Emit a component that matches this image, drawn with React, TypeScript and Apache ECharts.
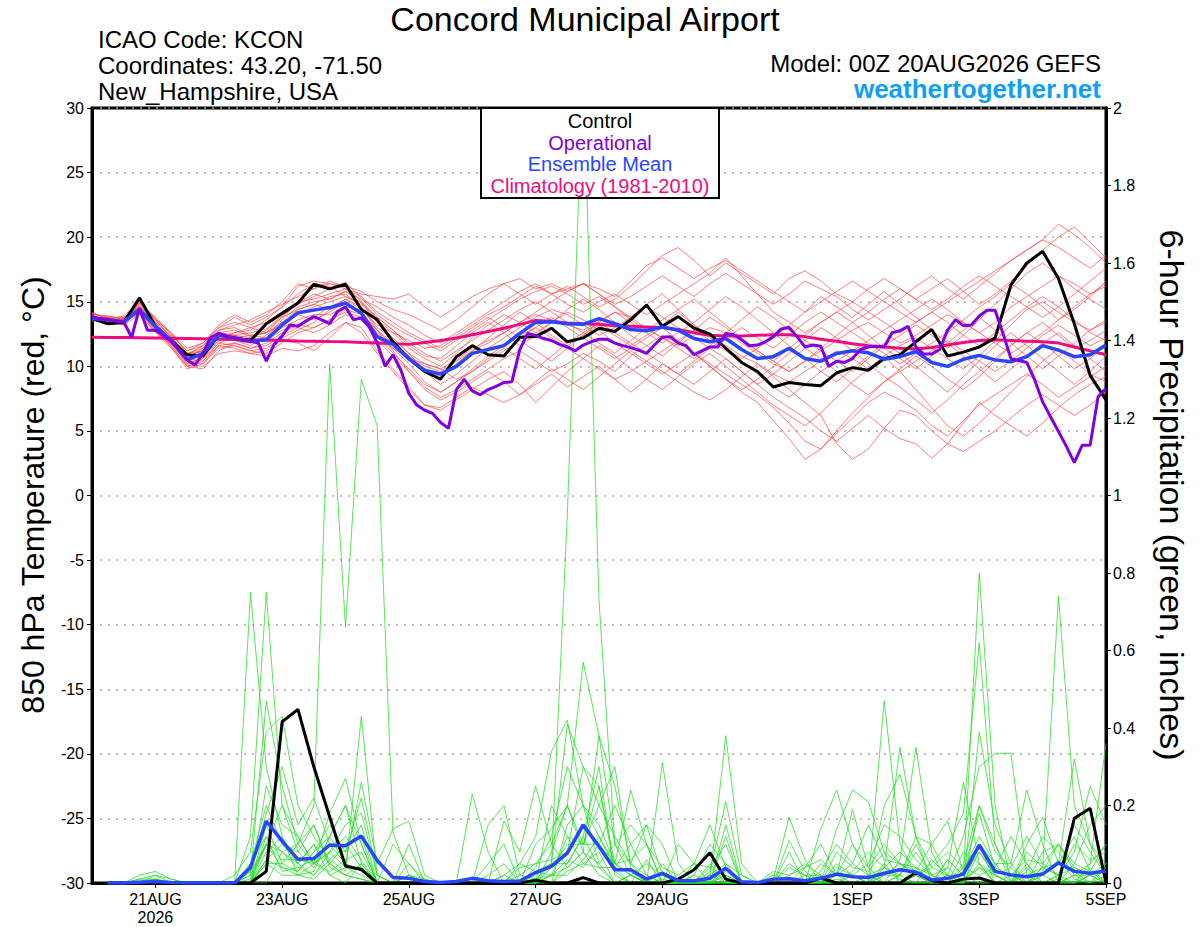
import React, { useEffect, useRef } from 'react';
import * as echarts from 'echarts';

// ---------- axis ticks ----------
const TICK_HOURS = [24, 72, 120, 168, 216, 288, 336, 384];
const TICK_LABELS = ['21AUG\n2026', '23AUG', '25AUG', '27AUG', '29AUG', '1SEP', '3SEP', '5SEP'];

// ---------- 850 hPa temperature (6-hourly from 00Z 20AUG, 65 values) ----------
const CONTROL_T = [
  13.7, 13.3, 13.4, 15.3, 13.1, 12.0, 10.9, 10.8, 12.4, 12.2, 12.0, 13.3, 14.1, 14.9, 16.35, 16.0,
  16.35, 14.4, 13.6, 11.9, 10.6, 9.6, 9.0, 10.75, 11.6, 10.9, 10.8, 12.25, 12.3, 12.95, 11.9, 12.2,
  12.95, 12.7, 13.6, 14.75, 13.1, 13.85, 12.95, 12.5, 11.4, 10.3, 9.6, 8.4, 8.75, 8.6, 8.5, 9.5,
  9.9, 9.7, 10.6, 10.9, 11.9, 12.85, 10.8, 11.1, 11.5, 12.2, 16.3, 18.0, 18.9, 16.8, 13.3, 9.3, 7.4,
];
const MEAN_T = [
  13.7, 13.6, 13.45, 14.4, 13.1, 12.0, 10.5, 11.0, 12.4, 12.2, 11.95, 12.05, 13.2, 14.15, 14.35, 14.55,
  14.9, 14.1, 12.3, 11.7, 10.6, 9.7, 9.4, 10.0, 11.0, 11.3, 11.6, 12.55, 13.4, 13.45, 13.3, 13.25,
  13.7, 13.3, 12.85, 12.75, 13.05, 12.8, 12.15, 11.9, 12.15, 11.3, 10.6, 10.75, 11.4, 10.6, 10.4, 11.0,
  11.2, 11.05, 10.55, 10.75, 11.15, 10.3, 10.0, 10.55, 10.85, 10.5, 10.35, 10.75, 11.6, 11.25, 10.75, 10.9, 11.65,
];
const CLIMO_T = [
  12.25, 12.24, 12.23, 12.22, 12.2, 12.18, 12.16, 12.14, 12.1, 12.08, 12.05, 12.03, 12.0, 11.97, 11.95, 11.92,
  11.9, 11.85, 11.8, 11.75, 11.7, 11.85, 12.0, 12.2, 12.45, 12.7, 12.95, 13.25, 13.55, 13.5, 13.35, 13.3,
  13.25, 13.15, 13.1, 13.05, 13.0, 12.85, 12.6, 12.4, 12.35, 12.35, 12.4, 12.45, 12.45, 12.3, 12.1, 11.95,
  11.75, 11.6, 11.5, 11.4, 11.35, 11.45, 11.65, 11.85, 12.0, 12.05, 12.0, 11.95, 11.9, 11.8, 11.5, 11.2, 10.9,
];
// operational run: 3-hourly, 129 values
const OPER_T = [
  13.85, 13.7, 13.6, 13.5, 13.45, 12.25, 14.5, 12.8, 12.8, 12.4, 11.9, 11.3, 10.5, 10.1, 11.0, 12.25,
  12.55, 12.35, 12.2, 12.0, 11.95, 11.8, 10.4, 11.7, 12.35, 13.2, 13.1, 13.5, 13.85, 13.6, 13.3, 14.25,
  14.6, 13.6, 13.75, 13.05, 11.8, 10.0, 10.9, 9.7, 7.9, 7.0, 6.6, 6.35, 5.65, 5.2, 8.2, 9.0,
  8.1, 7.8, 8.2, 8.45, 8.75, 8.8, 11.3, 12.55, 12.4, 12.15, 12.0, 11.7, 11.5, 11.2, 11.65, 11.9,
  12.1, 12.1, 11.8, 11.6, 11.45, 11.25, 11.0, 11.65, 12.25, 12.3, 11.8, 11.6, 10.9, 11.2, 11.5, 11.5,
  12.55, 12.45, 12.05, 11.6, 11.65, 11.9, 12.3, 12.9, 13.0, 12.3, 11.5, 11.65, 11.55, 10.0, 10.4, 10.3,
  10.6, 11.3, 11.5, 11.55, 11.5, 12.6, 12.75, 13.1, 11.5, 10.95, 10.95, 11.3, 12.8, 13.6, 13.15, 13.2,
  13.9, 14.35, 14.35, 12.55, 10.6, 10.45, 10.3, 8.95, 7.25, 6.1, 4.95, 3.8, 2.55, 3.9, 3.9, 7.65, 8.3,
];

// ensemble members (red), 6-hourly, groups of 4 = one day
const T_M01 = [13.9,13.5,13.6,14.8, 13.4,12.3,10.8,11.2, 12.6,12.8,12.3,12.6, 13.8,14.9,15.6,15.2, 15.8,14.9,13.4,12.2, 11.0,10.2,9.8,10.5, 11.4,12.0,12.6,13.4, 14.0,13.6,13.2,12.8, 13.5,14.2,13.8,12.9, 12.2,11.6,12.4,13.0, 12.6,11.8,11.0,10.2, 9.6,10.4,11.2,12.0, 12.8,13.4,12.6,11.8, 12.4,13.2,14.0,13.4, 12.6,13.4,14.6,15.4, 16.2,17.0,16.4,15.6, 16.2];
const T_M02 = [13.6,13.8,13.3,14.2, 12.9,11.8,10.2,10.6, 12.0,12.4,12.6,12.9, 13.9,14.8,15.4,16.0, 16.5,15.3,14.0,13.1, 12.4,11.8,11.2,12.0, 12.8,13.6,14.4,15.2, 15.8,16.2,15.6,14.8, 15.4,14.6,13.8,14.8, 15.6,14.4,13.2,12.4, 11.6,10.8,10.2,9.4, 8.8,9.6,10.4,11.2, 10.6,9.8,10.8,11.6, 12.2,11.4,10.6,9.8, 10.8,12.0,13.2,14.4, 15.0,14.2,13.4,12.8, 13.6];
const T_M03 = [14.0,13.4,13.5,14.6, 13.2,12.1,10.6,10.4, 11.8,11.6,11.2,11.0, 11.8,12.6,13.0,13.6, 14.2,13.8,12.0,10.8, 9.6,8.4,7.6,8.2, 9.0,9.8,10.6,11.2, 10.4,9.6,10.2,11.0, 10.4,9.6,10.8,11.6, 12.4,11.8,11.0,10.2, 9.4,8.6,7.8,6.8, 5.6,4.2,3.6,4.8, 6.0,7.2,8.0,7.4, 6.6,5.4,4.6,5.8, 7.0,7.8,8.6,9.4, 8.6,7.6,8.4,9.2, 10.0];
const T_M04 = [13.8,13.7,13.4,14.3, 13.0,12.2,11.0,11.4, 12.8,13.2,13.6,14.2, 14.8,15.4,16.0,16.4, 16.2,15.0,13.6,12.6, 11.4,10.6,10.0,11.0, 12.2,13.2,14.0,13.4, 12.6,13.4,14.2,13.6, 12.8,11.8,11.0,10.2, 9.4,10.2,11.0,10.0, 9.0,8.0,7.2,5.8, 4.4,2.8,3.6,5.0, 6.4,7.6,8.8,9.6, 10.4,11.2,12.0,11.2, 10.4,9.6,10.4,11.4, 12.4,13.2,12.4,11.6, 12.2];
const T_M05 = [13.5,13.9,13.7,15.0, 13.6,12.6,11.4,11.8, 13.0,13.8,13.2,13.8, 14.6,16.2,16.6,16.4, 16.0,15.6,15.4,15.2, 15.6,14.6,13.8,14.6, 15.4,16.0,16.4,15.6, 14.8,15.6,16.2,15.4, 14.6,15.2,16.2,17.4, 18.6,19.2,18.2,17.0, 18.0,17.2,16.4,15.6, 16.8,17.4,16.6,15.6, 15.0,16.0,16.8,16.0, 15.2,16.0,16.8,15.8, 14.8,15.6,16.6,17.8, 19.0,20.0,20.8,19.6, 18.4];
const T_M06 = [14.2,13.6,13.2,14.0, 12.7,11.6,10.0,9.8, 11.2,11.8,11.4,11.8, 12.6,13.2,13.8,14.6, 15.2,14.6,13.0,12.2, 11.0,9.6,8.6,9.4, 10.4,11.4,12.2,13.0, 13.8,14.4,14.0,13.2, 12.4,13.0,13.8,14.6, 13.8,13.0,12.2,11.4, 12.2,13.0,12.2,11.4, 12.4,13.4,14.2,13.4, 12.6,11.8,11.0,10.2, 11.0,11.8,12.6,13.6, 14.6,15.4,16.4,15.6, 14.6,13.6,14.4,15.4, 16.6];
const T_M07 = [13.7,13.4,13.8,14.5, 13.3,11.9,10.4,10.9, 12.2,12.0,11.6,12.4, 13.4,14.0,13.6,14.2, 15.0,14.2,12.6,11.4, 10.2,8.8,8.0,8.8, 9.6,10.6,11.4,10.6, 9.8,10.8,11.8,12.6, 13.4,12.6,11.8,11.0, 10.2,9.4,10.4,11.4, 10.6,9.6,8.6,9.4, 10.4,11.4,10.6,9.6, 8.6,7.8,8.8,9.8, 10.8,10.0,9.0,8.2, 9.2,10.4,11.6,12.6, 11.8,10.8,9.8,10.6, 11.6];
const T_M08 = [13.9,13.6,13.5,14.7, 13.5,12.4,11.2,11.6, 12.6,12.4,12.0,12.2, 13.0,13.6,14.0,14.0, 14.6,14.4,13.2,12.6, 12.0,11.4,11.6,12.4, 13.2,14.0,14.6,15.4, 16.2,15.6,14.8,14.2, 15.0,15.6,14.8,14.0, 14.8,15.6,16.4,17.2, 18.4,17.0,15.6,14.2, 13.4,12.6,13.4,14.2, 15.0,14.2,13.4,12.6, 13.4,14.2,13.4,12.4, 11.6,12.6,13.6,14.6, 15.4,14.6,13.6,12.6, 12.0];
const T_M09 = [13.6,13.3,13.6,14.1, 12.8,11.5,9.8,10.2, 11.6,11.4,11.0,11.2, 12.0,11.8,11.2,12.2, 13.4,13.0,11.2,9.8, 8.4,7.0,6.6,7.4, 8.2,9.0,9.6,8.6, 7.2,8.4,9.6,10.6, 11.6,10.8,9.8,9.0, 8.2,9.2,10.2,11.0, 10.0,9.0,8.0,7.0, 6.2,5.4,6.4,7.6, 8.8,9.8,10.8,9.6, 8.2,6.8,5.4,4.6, 5.6,6.8,8.0,9.2, 10.4,11.4,10.4,9.4, 8.8];
const T_M10 = [14.1,13.8,13.4,14.9, 13.8,12.6,11.0,11.2, 12.4,12.6,12.8,13.6, 14.6,15.6,16.4,16.2, 15.4,14.8,13.8,12.8, 11.8,11.0,10.4,11.2, 12.0,12.8,13.6,14.4, 15.0,14.2,13.4,12.6, 11.8,11.0,12.0,13.0, 12.2,11.4,10.6,11.6, 12.6,13.6,14.6,13.8, 12.8,12.0,11.2,10.4, 9.6,10.6,11.6,12.4, 13.2,12.4,11.4,12.4, 13.6,14.8,16.0,17.2, 18.0,17.0,16.0,15.2, 14.4];
const T_M11 = [13.8,13.5,13.2,14.4, 13.0,12.0,10.7,11.0, 12.2,12.0,11.8,12.0, 12.8,13.2,13.0,13.6, 14.4,14.0,12.8,11.6, 10.4,9.6,9.2,10.2, 11.2,12.2,13.2,14.2, 13.4,12.4,11.6,12.4, 13.2,12.4,11.6,12.4, 13.2,14.2,13.2,12.2, 11.4,10.6,11.4,12.2, 13.2,14.2,15.4,14.6, 13.8,14.8,15.8,14.8, 13.8,12.8,11.8,10.8, 9.8,8.8,9.8,10.8, 11.8,12.6,11.6,10.6, 9.6];
const T_M12 = [13.7,13.7,13.5,14.6, 13.1,11.8,10.3,10.6, 11.8,12.2,12.4,12.6, 13.4,14.4,14.8,15.4, 15.6,14.6,12.8,11.2, 9.6,8.2,7.4,8.0, 8.8,9.6,8.8,7.8, 8.6,9.4,8.4,9.2, 10.0,9.0,8.0,9.0, 10.2,9.4,8.6,9.6, 10.6,9.6,8.6,7.6, 6.8,6.0,5.0,4.2, 5.2,6.2,5.2,4.4, 4.0,2.9,4.0,5.6, 7.2,6.2,5.4,4.6, 5.6,6.8,7.8,8.6, 9.2];
const T_M13 = [13.9,13.4,13.7,14.9, 13.6,12.2,10.6,11.4, 12.8,13.0,12.4,12.2, 13.6,14.6,15.0,15.2, 15.8,15.2,14.6,13.8, 13.2,12.4,11.8,12.6, 13.4,14.2,15.0,15.8, 16.4,15.6,16.0,16.4, 15.6,14.8,15.4,16.2, 17.0,16.2,15.4,16.4, 17.2,16.4,15.6,14.8, 15.6,16.6,16.0,15.4, 14.4,13.6,14.4,15.2, 16.2,17.0,16.0,15.2, 16.2,17.2,18.2,19.0, 19.8,21.0,20.2,19.2, 18.0];
const T_M14 = [13.6,13.5,13.4,14.2, 12.8,11.7,10.4,10.2, 11.4,11.6,11.2,11.4, 12.2,12.8,13.4,14.4, 15.2,14.4,12.4,11.0, 9.8,8.6,8.0,8.8, 9.8,10.8,11.6,12.4, 13.0,12.2,11.4,10.6, 9.8,9.0,9.6,10.4, 11.2,12.0,12.8,12.0, 11.2,10.4,9.4,8.4, 7.6,8.6,9.6,10.4, 11.2,10.2,9.2,8.4, 7.4,6.4,7.4,8.6, 9.6,10.6,11.6,12.6, 13.4,12.4,11.4,12.0, 12.8];
const T_M15 = [14.0,13.9,13.6,14.5, 13.2,12.3,10.9,11.6, 13.0,13.4,13.0,12.6, 13.2,14.0,14.6,15.0, 15.4,15.0,13.8,12.8, 11.6,10.8,10.6,11.6, 12.6,13.4,12.6,11.6, 12.4,13.4,14.4,15.2, 14.4,13.4,12.4,11.6, 10.8,11.8,12.8,13.8, 13.0,12.0,11.2,10.4, 11.4,12.4,13.4,14.2, 13.4,12.4,11.4,10.6, 9.8,10.8,11.8,12.8, 13.8,12.8,11.8,10.8, 9.8,10.8,11.8,12.8, 13.4];
const T_M16 = [13.5,13.6,13.8,14.6, 13.4,12.0,10.6,10.8, 12.0,12.6,13.0,13.4, 14.2,15.0,15.2,15.6, 16.0,15.4,14.2,13.4, 12.6,12.0,11.4,12.2, 13.0,13.8,13.0,12.2, 13.0,13.8,13.0,12.2, 11.4,10.6,11.4,12.2, 13.0,12.0,11.0,10.0, 9.0,8.2,9.0,10.0, 11.0,12.0,13.0,12.2, 11.2,12.0,12.8,13.6, 14.4,15.2,14.4,13.4, 12.6,11.8,11.0,11.8, 12.6,13.6,14.6,15.6, 16.4];
const T_M17 = [13.8,13.3,13.3,14.3, 12.9,11.6,10.1,10.0, 11.0,11.2,11.0,10.8, 11.4,11.2,11.6,12.6, 13.4,12.6,11.0,9.6, 8.2,7.0,6.8,7.6, 8.4,7.8,7.2,7.8, 8.8,9.8,9.0,8.2, 9.2,10.2,11.2,10.4, 9.6,8.8,8.0,7.4, 8.2,9.2,10.2,9.2, 8.2,7.2,6.2,4.0, 2.8,3.6,5.2,6.6, 6.2,5.0,4.0,3.4, 4.2,5.0,6.0,7.0, 7.8,7.0,6.2,7.0, 8.0];
const T_M18 = [13.7,13.8,13.5,14.4, 13.2,12.1,10.8,11.2, 12.4,12.4,12.2,12.8, 13.8,14.4,14.8,14.4, 14.8,14.2,12.8,11.8, 10.8,10.0,9.6,10.4, 11.2,11.8,12.6,13.4, 14.2,15.0,15.8,16.4, 15.6,14.6,13.6,12.8, 13.6,14.4,15.2,14.2, 13.2,12.2,11.2,10.4, 9.6,10.4,11.4,12.4, 13.4,14.2,15.2,16.0, 15.2,14.4,15.2,16.2, 17.0,16.2,15.4,14.6, 13.8,14.6,15.6,16.6, 17.6];
const T_M19 = [13.6,13.4,13.6,14.0, 12.6,11.4,10.0,10.4, 11.6,11.8,11.4,11.6, 12.4,13.0,12.6,13.2, 14.0,13.6,12.2,11.4, 10.6,10.2,9.8,9.0, 9.6,10.4,11.2,12.0, 11.2,10.4,11.4,12.4, 13.4,14.2,13.4,12.6, 11.8,12.6,13.4,14.4, 15.4,14.6,13.6,12.6, 11.6,10.6,9.6,8.8, 9.8,10.8,11.8,11.0, 10.0,9.0,8.0,9.2, 10.4,11.6,12.6,11.6, 10.6,9.6,8.6,9.6, 10.8];
const T_M20 = [14.1,13.7,13.9,15.0, 13.7,12.5,11.2,11.8, 13.2,14.0,13.4,14.0, 15.0,16.4,16.0,16.6, 16.2,15.8,15.0,14.4, 14.0,13.4,12.8,13.6, 14.6,15.6,16.4,16.8, 16.0,16.4,15.8,16.4, 16.0,15.4,16.6,17.8, 18.4,17.6,16.8,17.6, 18.2,17.4,16.6,15.8, 15.0,14.2,15.0,15.8, 16.6,15.8,15.0,14.2, 13.4,14.2,15.0,15.8, 16.6,17.4,18.2,19.0, 19.8,19.2,18.4,17.6, 18.6];
const TEMP_MEMBERS = [T_M01, T_M02, T_M03, T_M04, T_M05, T_M06, T_M07, T_M08, T_M09, T_M10, T_M11, T_M12, T_M13, T_M14, T_M15, T_M16, T_M17, T_M18, T_M19, T_M20];

// ---------- 6-hour precipitation (inches), 64 values from 06Z 20AUG ----------
const CONTROL_P = [0,0,0,0, 0,0,0,0, 0,0,0.03,0.416, 0.448,0.30,0.171,0.044, 0.035,0,0,0, 0,0,0,0, 0,0,0,0.007, 0,0,0.014,0, 0,0,0,0, 0.01,0.034,0.078,0.01, 0,0,0,0, 0,0.013,0,0, 0,0,0,0.027, 0.006,0,0.01,0.013, 0,0,0,0, 0,0.167,0.193,0];
const MEAN_P = [0,0,0.002,0.004, 0.001,0,0,0, 0,0.04,0.16,0.108, 0.061,0.063,0.098,0.096, 0.121,0.058,0.014,0.012, 0.004,0.001,0.004,0.012, 0.006,0.004,0.005,0.027, 0.043,0.077,0.15,0.094, 0.034,0.034,0.01,0.025, 0.006,0.006,0.012,0.038, 0.003,0.001,0.01,0.011, 0.006,0.012,0.023,0.016, 0.014,0.025,0.034,0.028, 0.008,0.012,0.023,0.098, 0.03,0.021,0.016,0.023, 0.052,0.03,0.025,0.031];
const P_M01 = [0,0,0.01,0.02, 0.01,0,0,0, 0,0.05,0.12,0.08, 0.1,0.2,1.34,0.66, 1.3,1.18,0.13,0.02, 0,0,0,0, 0,0,0.02,0.05, 0.1,0.04,0.08,0.02, 0,0,0,0.01, 0,0,0,0.03, 0,0,0,0.02, 0.05,0.02,0,0, 0,0.04,0.02,0, 0,0,0.03,0.12, 0.05,0,0,0.02, 0.06,0.01,0,0.04];
const P_M02 = [0,0,0.02,0.03, 0.01,0,0,0, 0,0.75,0.3,0.12, 0.05,0.02,0.08,0.04, 0.02,0,0,0, 0,0,0,0, 0,0,0,0.02, 0.05,0.08,0.15,0.1, 0.04,0,0,0, 0,0,0.02,0.05, 0,0,0,0, 0,0.03,0.1,0.05, 0.02,0,0,0.04, 0.02,0,0.05,0.2, 0.1,0.02,0,0, 0,0.05,0.03,0.1];
const P_M03 = [0,0,0,0.02, 0,0,0,0, 0,0.12,0.75,0.2, 0.08,0.15,0.05,0.1, 0.04,0,0,0.02, 0,0,0,0, 0,0.02,0,0, 0.08,0.2,0.1,0.25, 0.05,0.02,0,0.03, 0,0,0,0, 0,0,0,0.11, 0.03,0,0.08,0.04, 0.03,0.08,0.05,0.02, 0,0.04,0,0.05, 0,0,0.08,0.04, 0.02,0,0.02,0];
const P_M04 = [0,0,0.01,0.01, 0,0,0,0, 0,0.02,0.47,0.25, 0.1,0.05,0.18,0.27, 0.1,0,0,0, 0,0,0,0, 0,0,0,0.1, 0.14,0.2,0.57,0.38, 0.1,0.05,0,0.05, 0,0,0.03,0.21, 0.02,0,0,0, 0,0,0.05,0.02, 0.05,0.15,0.12,0.06, 0.02,0,0,0.39, 0.15,0.05,0,0.08, 0.1,0.03,0,0.02];
const P_M05 = [0,0,0,0.01, 0,0,0,0, 0.02,0.08,0.39,0.43, 0.2,0.12,0.06,0.03, 0.43,0.02,0,0, 0,0,0,0, 0,0,0.05,0.12, 0.34,0.42,0.2,0.12, 0.05,0.24,0.1,0, 0,0,0,0.12, 0,0,0,0.05, 0.02,0,0.14,0.24, 0.21,0.08,0,0.02, 0.05,0.1,0.18,0.62, 0.1,0,0.05,0, 0.02,0.08,0.25,0.15];
const P_M06 = [0,0,0,0, 0,0,0,0, 0,0.05,0.2,0.1, 0.05,0.1,0.02,0, 0.05,0,0,0, 0,0,0,0, 0,0.02,0.05,0.03, 0.05,0.95,2.1,0.73, 0.1,0.02,0,0, 0,0,0,0.04, 0,0,0,0, 0,0,0.04,0.02, 0,0.47,0.1,0.02, 0,0,0,0.08, 0.02,0,0.04,0, 0,0.02,0,0.05];
const P_M07 = [0,0,0,0, 0,0,0,0, 0,0.03,0.18,0.3, 0.15,0.22,0.1,0.05, 0.26,0.05,0.14,0.16, 0.02,0,0,0.23, 0.08,0,0,0.03, 0.02,0.12,0.1,0.2, 0.3,0.04,0,0, 0,0,0.05,0, 0,0,0,0, 0,0.14,0.24,0.1, 0.04,0,0.02,0.12, 0.1,0.02,0,0, 0,0,0.1,0.17, 0.05,0.32,0.1,0.02];
const P_M08 = [0,0,0,0, 0,0,0,0, 0,0,0.25,0.15, 0.12,0.05,0.08,0.12, 0.06,0,0.1,0.05, 0.01,0,0,0, 0.15,0.2,0.02,0.01, 0.05,0.41,0.3,0.25, 0.03,0,0,0.31, 0.05,0,0,0, 0,0,0.01,0.17, 0.06,0,0,0.03, 0.08,0.04,0.35,0.12, 0.04,0.02,0.02,0.8, 0.2,0,0.02,0, 0.01,0,0,0];
const P_M09 = [0,0,0,0, 0,0,0,0, 0,0,0.15,0.05, 0.1,0.15,0.04,0.02, 0.01,0,0,0, 0,0,0,0, 0,0.16,0.08,0.25, 0.1,0.2,0.08,0.38, 0.25,0.05,0.02,0, 0,0,0.01,0.38, 0.05,0,0,0, 0,0.05,0.02,0.1, 0.02,0.04,0.08,0.04, 0,0.02,0.12,0.3, 0.335,0.335,0.02,0.04, 0.74,0.2,0.1,0.05];
const P_M10 = [0,0,0,0, 0,0,0,0, 0,0.01,0.1,0.06, 0.06,0.05,0.1,0.08, 0.15,0,0,0.1, 0,0,0,0, 0,0,0,0, 0.05,0.05,0.12,0.04, 0.04,0.1,0.15,0.02, 0,0,0,0.02, 0,0,0.03,0.02, 0.04,0.1,0.02,0.19, 0.04,0.1,0.05,0.03, 0.1,0.16,0.03,0.18, 0.04,0.12,0.05,0, 0.02,0.15,0.08,0.02];
const P_M11 = [0,0,0,0, 0,0,0,0, 0,0,0.08,0.12, 0.02,0.03,0.12,0.2, 0.1,0,0,0, 0,0,0,0, 0,0,0,0, 0.04,0.1,0.1,0.1, 0.2,0.1,0.02,0, 0.1,0.05,0.04,0, 0,0,0,0, 0,0,0,0, 0,0.2,0.28,0.12, 0,0.06,0.02,0.08, 0.02,0.04,0.12,0.05, 0.1,0.05,0.15,0.2];
const P_M12 = [0,0,0,0, 0,0,0,0, 0,0,0.05,0.05, 0.03,0.08,0.15,0.08, 0.22,0.02,0,0, 0,0,0,0, 0,0,0,0.04, 0.12,0.3,0.2,0.05, 0.1,0.15,0.1,0, 0,0.02,0.1,0.05, 0.02,0,0,0, 0,0,0,0, 0,0.02,0.02,0.1, 0.02,0,0,0.1, 0.05,0.05,0.24,0.1, 0,0,0.05,0.36];
const P_M13 = [0,0,0,0, 0,0,0,0, 0,0,0.1,0.2, 0.12,0.05,0.03,0.06, 0.08,0,0,0, 0,0,0,0, 0,0,0,0, 0.02,0.02,0.06,0.12, 0.04,0.03,0,0, 0,0.02,0,0, 0,0,0,0, 0.02,0.02,0,0, 0,0,0,0.02, 0.04,0.08,0.04,0.02, 0.04,0.02,0.06,0.05, 0.02,0.1,0.06,0.08];
const P_M14 = [0,0,0,0, 0,0,0,0, 0,0,0.05,0.02, 0.02,0.05,0.08,0.15, 0.18,0.02,0,0.05, 0,0,0,0, 0,0,0,0, 0,0.15,0.2,0.15, 0.05,0.06,0.1,0.04, 0.02,0.05,0.15,0.04, 0,0,0.02,0.01, 0,0,0,0, 0,0,0,0, 0,0,0,0.2, 0.08,0.04,0,0.04, 0.05,0.12,0.03,0];
const P_M15 = [0,0,0,0, 0,0,0,0, 0,0,0,0.08, 0.05,0.1,0.05,0.02, 0.05,0,0,0, 0,0,0,0, 0,0,0.04,0.05, 0.06,0.08,0.3,0.2, 0.12,0.05,0.15,0.1, 0,0,0,0, 0,0,0,0.04, 0.02,0,0.02,0.05, 0.15,0.06,0.05,0.02, 0,0,0.08,0.05, 0,0,0.03,0.12, 0.08,0.02,0.05,0.1];
const P_M16 = [0,0,0,0, 0,0,0,0, 0,0.02,0.1,0.04, 0.03,0.08,0.12,0.2, 0.05,0,0,0.02, 0.01,0,0,0, 0.02,0.05,0,0, 0.2,0.12,0.05,0.08, 0,0.02,0.05,0.02, 0,0,0.04,0.1, 0,0,0,0, 0.04,0.06,0.02,0, 0.02,0,0.06,0.35, 0.08,0,0.04,0.1, 0,0.02,0,0.03, 0.1,0.04,0.02,0];
const P_M17 = [0,0,0,0, 0,0,0,0, 0,0,0.12,0.03, 0.04,0.02,0.06,0.1, 0.12,0,0,0, 0,0,0,0, 0.05,0.1,0,0, 0,0.05,0.12,0.3, 0.02,0,0.06,0, 0,0.05,0,0.15, 0,0,0,0.08, 0,0,0.02,0.02, 0,0.05,0,0, 0,0.06,0.02,0, 0,0,0,0.04, 0.02,0.04,0.02,0.05];
const P_M18 = [0,0,0,0, 0,0,0,0, 0,0,0.06,0.1, 0.08,0.04,0.12,0.05, 0.03,0,0,0, 0,0,0,0, 0,0,0,0, 0.02,0.04,0.08,0.05, 0,0.02,0,0, 0,0,0.02,0, 0,0,0,0, 0,0.02,0,0, 0,0,0.02,0.08, 0.02,0.04,0.26,0.05, 0.02,0,0,0, 0,0,0.02,0.04];
const P_M19 = [0,0,0,0, 0,0,0,0, 0,0,0.06,0.04, 0.02,0.01,0.05,0.02, 0.01,0,0,0, 0,0,0,0, 0,0,0,0, 0,0.03,0.05,0.04, 0,0,0,0, 0,0,0,0, 0,0,0,0, 0,0,0,0.02, 0,0.04,0.01,0, 0.06,0.02,0,0.04, 0,0,0,0.02, 0,0,0.04,0];
const P_M20 = [0,0,0.005,0.01, 0,0,0,0, 0,0.03,0.1,0.08, 0.04,0.06,0.02,0.04, 0.04,0,0,0.02, 0,0,0,0, 0,0,0,0.01, 0.02,0.06,0.04,0.1, 0.05,0.02,0,0, 0,0,0,0.02, 0,0,0,0, 0,0,0.01,0, 0,0.02,0.05,0.04, 0,0.02,0.01,0.04, 0.02,0,0,0, 0,0.02,0.02,0.03];
const PRECIP_MEMBERS = [P_M01, P_M02, P_M03, P_M04, P_M05, P_M06, P_M07, P_M08, P_M09, P_M10, P_M11, P_M12, P_M13, P_M14, P_M15, P_M16, P_M17, P_M18, P_M19, P_M20];

// ---------- styling ----------
const FONT = '"Liberation Sans", Arial, Helvetica, sans-serif';
const C_RED = '#ff4040';
const C_GREEN = '#22dd22';
const C_CONTROL = '#000000';
const C_OPER = '#8000e0';
const C_MEAN = '#2846ff';
const C_CLIMO = '#ee0d7e';

const tempPoints = (arr: number[]) => arr.map((v, i) => [i * 6, v]);
const operPoints = (arr: number[]) => arr.map((v, i) => [i * 3, v]);
const precipPoints = (arr: number[]) => arr.map((v, i) => [(i + 1) * 6, v]);

const lineSeries = (name: string, data: number[][], color: string, width: number, yAxisIndex: number, z: number, opacity = 1) => ({
  type: 'line',
  name,
  data,
  yAxisIndex,
  showSymbol: false,
  symbol: 'none',
  silent: true,
  clip: true,
  z,
  lineStyle: { color, width, opacity },
});

const text = (t: string, x: number, y: number, font: string, fill: string, align: string, extra: any = {}) => ({
  type: 'text',
  x,
  y,
  z: 110,
  silent: true,
  ...extra,
  style: {
    text: t,
    font,
    fill,
    textAlign: align,
    align,
    textVerticalAlign: 'middle',
    verticalAlign: 'middle',
  },
});

export default function App() {
  const ref = useRef<HTMLDivElement>(null);

  useEffect(() => {
    if (!ref.current) return;
    const chart = echarts.init(ref.current, null, { renderer: 'svg' });

    const series: any[] = [];
    TEMP_MEMBERS.forEach((m, k) => series.push(lineSeries('T' + k, tempPoints(m), C_RED, 0.8, 0, 2, 0.85)));
    PRECIP_MEMBERS.forEach((m, k) => series.push(lineSeries('P' + k, precipPoints(m), C_GREEN, 0.8, 1, 3, 0.95)));
    series.push(lineSeries('Climatology', tempPoints(CLIMO_T), C_CLIMO, 3, 0, 4));
    series.push(lineSeries('ControlT', tempPoints(CONTROL_T), C_CONTROL, 3, 0, 5));
    series.push(lineSeries('ControlP', precipPoints(CONTROL_P), C_CONTROL, 3, 1, 5));
    series.push(lineSeries('MeanT', tempPoints(MEAN_T), C_MEAN, 3.5, 0, 6));
    series.push(lineSeries('MeanP', precipPoints(MEAN_P), C_MEAN, 3.5, 1, 6));
    series.push(lineSeries('Operational', operPoints(OPER_T), C_OPER, 3, 0, 7));

    const option: any = {
      animation: false,
      backgroundColor: '#ffffff',
      textStyle: { fontFamily: FONT },
      grid: {
        left: 92,
        right: 94,
        top: 108,
        bottom: 44,
        show: true,
        borderColor: '#000',
        borderWidth: 3,
        backgroundColor: 'transparent',
      },
      xAxis: {
        type: 'value',
        min: 0,
        max: 384,
        axisLine: { show: true, onZero: false, lineStyle: { color: '#000', width: 3 } },
        axisTick: { show: true, customValues: TICK_HOURS, length: 5, lineStyle: { color: '#000', width: 1 } },
        axisLabel: {
          customValues: TICK_HOURS,
          margin: 7,
          color: '#000',
          fontSize: 16,
          lineHeight: 18,
          fontFamily: FONT,
          formatter: (v: number) => {
            const k = TICK_HOURS.indexOf(Math.round(v));
            return k >= 0 ? TICK_LABELS[k] : '';
          },
        },
        splitLine: { show: false },
      },
      yAxis: [
        {
          type: 'value',
          position: 'left',
          min: -30,
          max: 30,
          interval: 5,
          axisLine: { show: true, lineStyle: { color: '#000', width: 3 } },
          axisTick: { show: true, length: 5, lineStyle: { color: '#000', width: 1 } },
          axisLabel: { color: '#000', fontSize: 16, margin: 8, fontFamily: FONT },
          splitLine: { show: true, lineStyle: { color: '#a8a8a8', width: 1.5, type: [2, 6] } },
        },
        {
          type: 'value',
          position: 'right',
          min: 0,
          max: 2,
          interval: 0.2,
          axisLine: { show: true, lineStyle: { color: '#000', width: 3 } },
          axisTick: { show: true, length: 5, lineStyle: { color: '#000', width: 1 } },
          axisLabel: {
            color: '#000',
            fontSize: 16,
            margin: 7,
            fontFamily: FONT,
            formatter: (v: number) => String(Number(v.toFixed(1))),
          },
          splitLine: { show: false },
        },
      ],
      graphic: [
        text('Concord Municipal Airport', 585, 19, `34px ${FONT}`, '#000', 'center'),
        text('ICAO Code: KCON', 98, 39, `24px ${FONT}`, '#000', 'left'),
        text('Coordinates: 43.20, -71.50', 98, 65, `24px ${FONT}`, '#000', 'left'),
        text('New_Hampshire, USA', 98, 91, `24px ${FONT}`, '#000', 'left'),
        text('Model: 00Z 20AUG2026 GEFS', 1101, 63, `24px ${FONT}`, '#000', 'right'),
        text('weathertogether.net', 1101, 89, `bold 26px ${FONT}`, '#11a0f0', 'right'),
        {
          type: 'rect',
          z: 100,
          silent: true,
          shape: { x: 481, y: 108, width: 238, height: 90 },
          style: { fill: '#ffffff', stroke: '#000', lineWidth: 2 },
        },
        text('Control', 600, 121, `20px ${FONT}`, C_CONTROL, 'center'),
        text('Operational', 600, 142.5, `20px ${FONT}`, C_OPER, 'center'),
        text('Ensemble Mean', 600, 164, `20px ${FONT}`, C_MEAN, 'center'),
        text('Climatology (1981-2010)', 600, 186, `20px ${FONT}`, C_CLIMO, 'center'),
        text('850 hPa Temperature (red, °C)', 33, 495, `32px ${FONT}`, '#000', 'center', { rotation: Math.PI / 2 }),
        text('6-hour Precipitation (green, inches)', 1172, 495, `34px ${FONT}`, '#000', 'center', { rotation: -Math.PI / 2 }),
      ],
      series,
    };

    chart.setOption(option);
    return () => chart.dispose();
  }, []);

  return (
    <div
      ref={ref}
      style={{ position: 'fixed', left: 0, top: 0, width: 1200, height: 927, background: '#fff' }}
    />
  );
}
